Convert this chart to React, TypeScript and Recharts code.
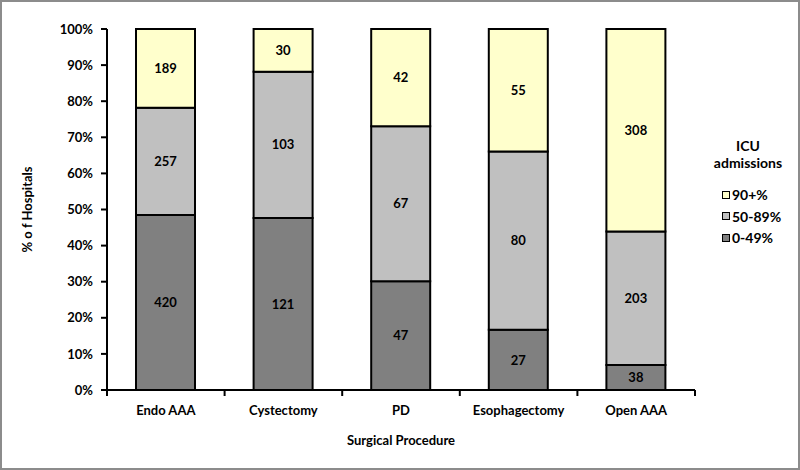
import React from 'react';
import { BarChart, Bar, XAxis, YAxis, LabelList } from 'recharts';

const categories = ['Endo AAA', 'Cystectomy', 'PD', 'Esophagectomy', 'Open AAA'];
const low = [420, 121, 47, 27, 38];
const mid = [257, 103, 67, 80, 203];
const high = [189, 30, 42, 55, 308];
const yTicks = [0, 0.1, 0.2, 0.3, 0.4, 0.5, 0.6, 0.7, 0.8, 0.9, 1];
const seriesNames = ['0-49%', '50-89%', '90+%'];
const colors = ['#808080', '#C0C0C0', '#FFFFCC'];

const data = categories.map((c, i) => ({ name: c, low: low[i], mid: mid[i], high: high[i] }));

const FONT = 'Lato, "Open Sans", sans-serif';

const XTick = (props: any) => {
  const { x, y, payload, index, visibleTicksCount, width } = props;
  const step = width / visibleTicksCount;
  const axisY = y - 8;
  return (
    <g>
      <line x1={x - step / 2} x2={x - step / 2} y1={axisY} y2={axisY + 6} stroke="#000" strokeWidth={2} />
      {index === visibleTicksCount - 1 && (
        <line x1={x + step / 2} x2={x + step / 2} y1={axisY} y2={axisY + 6} stroke="#000" strokeWidth={2} />
      )}
      <text x={x} y={y + 17} textAnchor="middle" fontFamily={FONT} fontWeight={700} fontSize={13} fill="#000">
        {payload.value}
      </text>
    </g>
  );
};

const YLabel = (props: any) => {
  const vb = props.viewBox || {};
  const x = vb.x + 22;
  const y = vb.y + vb.height / 2;
  return (
    <text
      x={x}
      y={y}
      transform={`rotate(-90 ${x} ${y})`}
      textAnchor="middle"
      fontFamily={FONT}
      fontWeight={700}
      fontSize={13}
      fill="#000"
    >
      % o f Hospitals
    </text>
  );
};

const legendOrder = [2, 1, 0];

export default function App() {
  return (
    <div style={{ position: 'absolute', left: 0, top: 0, width: 800, height: 470, background: '#fff' }}>
      <BarChart
        width={800}
        height={470}
        data={data}
        stackOffset="expand"
        margin={{ top: 29, right: 105, bottom: 20, left: 10 }}
      >
        <XAxis
          dataKey="name"
          height={60}
          stroke="#000"
          strokeWidth={2}
          tickLine={false}
          tick={<XTick />}
          interval={0}
          label={{
            value: 'Surgical Procedure',
            position: 'insideBottom',
            offset: 5,
            style: { fontFamily: FONT, fontWeight: 700, fontSize: 13, fill: '#000' },
          }}
        />
        <YAxis
          width={97}
          domain={[0, 1]}
          ticks={yTicks}
          tickFormatter={(v: number) => `${Math.round(v * 100)}%`}
          stroke="#000"
          strokeWidth={2}
          tickSize={6}
          tickMargin={8}
          tick={{ fontFamily: FONT, fontWeight: 700, fontSize: 13, fill: '#000' }}
          label={<YLabel />}
        />
        <Bar dataKey="low" name={seriesNames[0]} stackId="a" fill={colors[0]} stroke="#000" strokeWidth={2} barSize={59} isAnimationActive={false}>
          <LabelList dataKey="low" position="center" fill="#000" fontFamily={FONT} fontWeight={700} fontSize={13} />
        </Bar>
        <Bar dataKey="mid" name={seriesNames[1]} stackId="a" fill={colors[1]} stroke="#000" strokeWidth={2} barSize={59} isAnimationActive={false}>
          <LabelList dataKey="mid" position="center" fill="#000" fontFamily={FONT} fontWeight={700} fontSize={13} />
        </Bar>
        <Bar dataKey="high" name={seriesNames[2]} stackId="a" fill={colors[2]} stroke="#000" strokeWidth={2} barSize={59} isAnimationActive={false}>
          <LabelList dataKey="high" position="center" fill="#000" fontFamily={FONT} fontWeight={700} fontSize={13} />
        </Bar>
      </BarChart>
      <div
        style={{
          position: 'absolute',
          left: 705,
          top: 137,
          width: 86,
          fontFamily: FONT,
          fontWeight: 700,
          fontSize: 14,
          color: '#000',
        }}
      >
        <div style={{ textAlign: 'center', lineHeight: '17px' }}>
          ICU<br />admissions
        </div>
        <div style={{ marginTop: 13, paddingLeft: 17 }}>
          {legendOrder.map((i) => (
            <div key={seriesNames[i]} style={{ display: 'flex', alignItems: 'center', height: 21.5 }}>
              <span
                style={{
                  display: 'inline-block',
                  width: 6,
                  height: 6,
                  background: colors[i],
                  border: '1.5px solid #000',
                  marginRight: 2,
                }}
              />
              <span>{seriesNames[i]}</span>
            </div>
          ))}
        </div>
      </div>
      <div
        style={{
          position: 'absolute',
          left: 0,
          top: 0,
          width: 800,
          height: 470,
          border: '2px solid #8c8c8c',
          boxSizing: 'border-box',
          pointerEvents: 'none',
        }}
      />
    </div>
  );
}
